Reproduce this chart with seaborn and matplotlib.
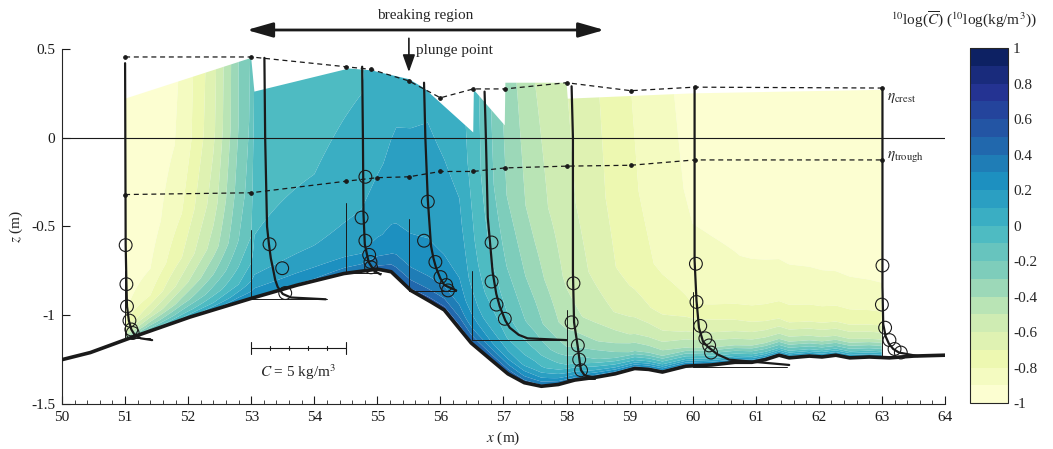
import numpy as np
import matplotlib
matplotlib.use("Agg")
import matplotlib.pyplot as plt
import seaborn as sns
from matplotlib.patches import Polygon
from matplotlib.ticker import MultipleLocator, FuncFormatter

# ---------------- data ----------------
# bed profile (m)
bed_x = [50.0, 50.45, 51.08, 52.03, 53.0, 53.73, 54.47, 55.0, 55.22, 55.53, 55.85, 56.06,
         56.28, 56.49, 56.8, 57.07, 57.33, 57.6, 57.87, 58.13, 58.45, 58.77, 59.08, 59.3,
         59.52, 59.89, 60.3, 60.67, 60.94, 61.15, 61.37, 61.53, 61.85, 62.05, 62.27, 62.49,
         62.8, 63.12, 63.5, 64.0]
bed_z = [-1.25, -1.21, -1.128, -1.01, -0.905, -0.83, -0.765, -0.74, -0.755, -0.86, -0.925, -0.97,
         -1.066, -1.157, -1.25, -1.33, -1.38, -1.40, -1.39, -1.365, -1.35, -1.33, -1.30, -1.305,
         -1.32, -1.287, -1.28, -1.265, -1.265, -1.25, -1.225, -1.24, -1.23, -1.235, -1.225, -1.24,
         -1.235, -1.24, -1.23, -1.225]

# wave crest / trough levels
crest_x = [51.0, 53.0, 54.5, 54.9, 55.5, 56.0, 56.52, 57.02, 58.0, 59.02, 60.03, 63.0]
crest_z = [0.455, 0.455, 0.40, 0.385, 0.32, 0.225, 0.275, 0.275, 0.31, 0.265, 0.285, 0.28]
trough_x = [51.0, 53.0, 54.5, 55.0, 55.5, 56.0, 56.52, 57.02, 58.0, 59.02, 60.03, 63.0]
trough_z = [-0.32, -0.31, -0.245, -0.225, -0.22, -0.19, -0.19, -0.17, -0.16, -0.155, -0.125, -0.125]

# upper edge of the concentration field
top_x = [51.0, 53.0, 53.05, 54.55, 54.9, 55.5, 55.74, 56.52, 56.53, 57.02, 57.03, 58.0, 58.02, 60.0, 63.0]
top_z = [0.22, 0.45, 0.26, 0.39, 0.38, 0.33, 0.28, 0.03, 0.27, 0.07, 0.31, 0.31, 0.22, 0.25, 0.27]

# 10log(C) field: columns (x) and values at heights above the bed
col_x = [51.0, 51.4, 51.9, 52.4, 52.8, 53.0, 53.05, 54.0, 54.75, 55.3, 55.8, 56.3, 56.6,
         57.05, 57.5, 58.0, 59.0, 60.0, 61.5, 63.0]
col_h = [0.0, 0.04, 0.1, 0.2, 0.35, 0.6, 1.0, 1.7]
col_v = [
    [-0.3, -0.6, -0.8, -0.92, -0.97, -1.0, -1.0, -1.0],
    [-0.1, -0.35, -0.6, -0.8, -0.9, -0.95, -0.97, -0.98],
    [0.05, -0.15, -0.35, -0.55, -0.7, -0.8, -0.88, -0.9],
    [0.2, 0.0, -0.15, -0.3, -0.45, -0.55, -0.62, -0.65],
    [0.3, 0.15, 0.0, -0.1, -0.2, -0.25, -0.3, -0.3],
    [0.3, 0.2, 0.1, 0.0, -0.1, -0.15, -0.18, -0.2],
    [0.3, 0.22, 0.12, 0.05, 0.0, -0.03, -0.08, -0.12],
    [0.32, 0.25, 0.17, 0.1, 0.05, 0.0, -0.04, -0.08],
    [0.4, 0.3, 0.2, 0.14, 0.1, 0.05, 0.0, -0.03],
    [0.5, 0.42, 0.32, 0.24, 0.18, 0.13, 0.08, 0.03],
    [0.55, 0.45, 0.33, 0.25, 0.2, 0.15, 0.1, 0.05],
    [0.55, 0.45, 0.33, 0.24, 0.17, 0.12, 0.06, 0.0],
    [0.5, 0.4, 0.25, 0.12, 0.03, -0.03, -0.08, -0.1],
    [0.5, 0.35, 0.15, 0.0, -0.1, -0.2, -0.3, -0.35],
    [0.45, 0.25, 0.05, -0.1, -0.25, -0.35, -0.45, -0.5],
    [0.4, 0.15, -0.1, -0.3, -0.45, -0.52, -0.57, -0.6],
    [0.4, 0.05, -0.3, -0.5, -0.65, -0.75, -0.78, -0.8],
    [0.4, 0.0, -0.4, -0.62, -0.8, -0.88, -0.92, -0.95],
    [0.3, -0.1, -0.45, -0.7, -0.85, -0.92, -0.95, -0.97],
    [0.25, -0.15, -0.5, -0.75, -0.88, -0.95, -0.97, -0.98],
]
levels = np.round(np.linspace(-1, 1, 21), 2)
cb_ticks = [-1, -0.8, -0.6, -0.4, -0.2, 0, 0.2, 0.4, 0.6, 0.8, 1]

# measuring stations: fitted profiles and measured concentrations (kg/m3)
st_x0 = [51.0, 53.2, 54.75, 55.74, 56.7, 58.08, 60.03, 63.0]
prof_z = [
    [0.42, -0.6, -0.82, -0.95, -1.03, -1.08, -1.11, -1.13, -1.14],
    [0.45, 0.0, -0.5, -0.6, -0.68, -0.73, -0.8, -0.84, -0.88, -0.9, -0.91],
    [0.40, 0.0, -0.43, -0.6, -0.7, -0.75, -0.77],
    [0.31, 0.0, -0.35, -0.61, -0.68, -0.73, -0.79, -0.83, -0.86],
    [0.26, 0.0, -0.45, -0.76, -0.88, -0.95, -1.03, -1.07, -1.11, -1.13, -1.14],
    [0.29, 0.0, -0.76, -1.04, -1.18, -1.28, -1.31, -1.34, -1.35],
    [0.285, -0.69, -0.915, -1.07, -1.15, -1.18, -1.22, -1.25, -1.28],
    [0.27, -0.84, -1.05, -1.12, -1.16, -1.19, -1.21, -1.23],
]
prof_c = [
    [0.0, 0.03, 0.07, 0.1, 0.2, 0.33, 0.5, 0.83, 1.43],
    [0.03, 0.07, 0.17, 0.27, 0.37, 0.47, 0.6, 0.73, 1.0, 1.43, 3.27],
    [0.03, 0.07, 0.1, 0.17, 0.37, 0.67, 1.0],
    [0.0, 0.07, 0.2, 0.37, 0.5, 0.63, 0.85, 1.07, 1.7],
    [0.0, 0.07, 0.17, 0.43, 0.62, 0.8, 1.1, 1.33, 1.8, 2.27, 4.33],
    [0.0, 0.07, 0.07, 0.13, 0.33, 0.45, 0.5, 0.7, 1.23],
    [0.0, 0.0, 0.1, 0.23, 0.45, 0.73, 1.2, 1.83, 5.0],
    [0.03, 0.03, 0.07, 0.2, 0.37, 0.6, 0.9, 1.9],
]
obs_z = [
    [-0.605, -0.825, -0.95, -1.03, -1.08, -1.10],
    [-0.60, -0.735, -0.875],
    [-0.22, -0.45, -0.58, -0.66, -0.70, -0.73],
    [-0.36, -0.58, -0.70, -0.785, -0.83, -0.86],
    [-0.59, -0.81, -0.94, -1.02],
    [-0.82, -1.04, -1.17, -1.25, -1.31],
    [-0.71, -0.925, -1.06, -1.13, -1.17, -1.21],
    [-0.72, -0.94, -1.07, -1.14, -1.19, -1.21],
]
obs_c = [
    [0.03, 0.07, 0.1, 0.23, 0.33, 0.4],
    [0.3, 0.97, 1.13],
    [0.2, 0.0, 0.2, 0.4, 0.47, 0.5],
    [0.2, 0.0, 0.6, 0.87, 1.17, 1.27],
    [0.37, 0.37, 0.63, 1.07],
    [0.1, 0.0, 0.33, 0.4, 0.5],
    [0.07, 0.1, 0.3, 0.57, 0.77, 0.87],
    [0.03, 0.0, 0.17, 0.4, 0.67, 1.0],
]
# thin reference lines at each station: x, top z, bed z, end x
ref_x = [51.0, 53.0, 54.5, 55.5, 56.5, 58.0, 60.0, 63.0]
ref_zt = [-0.75, -0.52, -0.37, -0.46, -0.75, -0.97, -0.87, -0.84]
ref_zb = [-1.13, -0.91, -0.76, -0.865, -1.14, -1.36, -1.29, -1.23]
ref_xe = [51.4, 54.2, 55.05, 56.25, 58.0, 58.45, 61.5, 63.6]

scale_m_per_kg = 0.3   # 5 kg/m3 = 1.5 m
scale_C = 5

# ---------------- styling ----------------
sns.set_theme(style="ticks")
plt.rcParams.update({
    "font.family": ["Liberation Serif", "DejaVu Serif"],
    "mathtext.fontset": "stix",
    "axes.unicode_minus": False,
    "font.size": 11,
    "axes.linewidth": 0.8,
})

fig = plt.figure(figsize=(10.53, 4.49), dpi=100)
ax = fig.add_axes([0.0589, 0.1002, 0.8385, 0.7907])

# ---------------- concentration field ----------------
gx = np.linspace(51.0, 63.0, 721)
gz = np.linspace(-1.45, 0.5, 420)
GX, GZ = np.meshgrid(gx, gz)
H = GZ - np.interp(GX, bed_x, bed_z)
V = np.zeros_like(GX)
eye = np.eye(len(col_x))
for i in range(len(col_x)):
    w = np.interp(GX, col_x, eye[i])
    V += w * np.interp(H, col_h, col_v[i])
V = np.clip(V, -1, 1)

cs = ax.contourf(GX, GZ, V, levels=levels, cmap="YlGnBu", zorder=1, antialiased=True)

bx = np.array(bed_x); bz = np.array(bed_z)
inner = (bx > 51.0) & (bx < 63.0)
poly_x = list(top_x) + [63.0] + list(bx[inner][::-1]) + [51.0]
poly_z = list(top_z) + [float(np.interp(63.0, bed_x, bed_z))] + list(bz[inner][::-1]) + \
         [float(np.interp(51.0, bed_x, bed_z))]
clip = Polygon(np.column_stack([poly_x, poly_z]), closed=True, transform=ax.transData,
               facecolor="none", edgecolor="none")
cs.set_clip_path(clip)

# ---------------- lines ----------------
ax.axhline(0, color="k", lw=0.8, zorder=2)

for xr, zt, zb, xe in zip(ref_x, ref_zt, ref_zb, ref_xe):
    ax.plot([xr, xr, xe], [zt, zb, zb], color="k", lw=0.7, zorder=3)

for lx, lz in ((crest_x, crest_z), (trough_x, trough_z)):
    sns.lineplot(x=lx, y=lz, ax=ax, color="k", lw=0.9, linestyle=(0, (4, 3)),
                 marker="o", markersize=2.6, markeredgecolor="k", markerfacecolor="k",
                 sort=False, estimator=None, zorder=4)

for x0, pz, pc, oz, oc in zip(st_x0, prof_z, prof_c, obs_z, obs_c):
    px = x0 + scale_m_per_kg * np.array(pc)
    sns.lineplot(x=px, y=pz, ax=ax, color="k", lw=1.6, sort=False, estimator=None, zorder=5)
    ox = x0 + scale_m_per_kg * np.array(oc)
    ax.scatter(ox, oz, s=85, facecolors="none", edgecolors="k", linewidths=0.8, zorder=6)

sns.lineplot(x=bed_x, y=bed_z, ax=ax, color="k", lw=2.6, sort=False, estimator=None, zorder=7)

# scale bar
sb_x0, sb_z = 53.0, -1.185
sb_ticks = sb_x0 + scale_m_per_kg * np.arange(0, scale_C + 1)
ax.plot([sb_ticks[0], sb_ticks[-1]], [sb_z, sb_z], color="k", lw=0.8)
for i, t in enumerate(sb_ticks):
    hgt = 0.035 if i in (0, scale_C) else 0.012
    ax.plot([t, t], [sb_z - hgt, sb_z + hgt], color="k", lw=0.8)
ax.text((sb_ticks[0] + sb_ticks[-1]) / 2, -1.32, r"$C$ = 5 kg/m$^3$", ha="center", va="center",
        fontsize=11)

# annotations
ax.annotate("", xy=(52.93, 0.607), xytext=(58.6, 0.607), annotation_clip=False,
            arrowprops=dict(arrowstyle="<|-|>,head_length=1.05,head_width=0.3", color="k",
                            lw=2, mutation_scale=15, shrinkA=0, shrinkB=0))
ax.text(55.76, 0.69, "breaking region", ha="center", va="center", fontsize=11, clip_on=False)
ax.annotate("", xy=(55.5, 0.37), xytext=(55.5, 0.56), annotation_clip=False,
            arrowprops=dict(arrowstyle="-|>,head_length=0.7,head_width=0.25", color="k",
                            lw=1.2, mutation_scale=15, shrinkA=0, shrinkB=0))
ax.text(55.62, 0.49, "plunge point", ha="left", va="center", fontsize=11, clip_on=False)
ax.text(63.08, 0.225, r"$\eta_{\mathrm{crest}}$", ha="left", va="center", fontsize=11)
ax.text(63.08, -0.105, r"$\eta_{\mathrm{trough}}$", ha="left", va="center", fontsize=11)

# axes
ax.set_xlim(50, 64)
ax.set_ylim(-1.5, 0.5)
sns.despine(ax=ax)
ax.xaxis.set_major_locator(MultipleLocator(1))
ax.xaxis.set_minor_locator(MultipleLocator(0.2))
ax.yaxis.set_major_locator(MultipleLocator(0.5))
fmt = FuncFormatter(lambda v, p: "0" if abs(v) < 1e-9 else f"{v:g}")
ax.xaxis.set_major_formatter(fmt)
ax.yaxis.set_major_formatter(fmt)
ax.tick_params(which="major", direction="in", length=6, width=0.8, labelsize=11, pad=5,
               colors="k")
ax.tick_params(which="minor", direction="in", length=3, width=0.6)
ax.set_xlabel(r"$x$ (m)", fontsize=11, labelpad=4)
ax.set_ylabel(r"$z$ (m)", fontsize=11, labelpad=4)

# colorbar
cax = fig.add_axes([0.9212, 0.1024, 0.0357, 0.7906])
cb = fig.colorbar(cs, cax=cax, ticks=cb_ticks)
cb.ax.set_yticklabels([("0" if t == 0 else f"{t:g}") for t in cb_ticks])
cb.ax.tick_params(direction="in", length=3, width=0.6, labelsize=11, pad=4)
cb.outline.set_linewidth(0.8)
fig.text(0.9155, 0.955, r"$^{10}$log($\overline{C}$) ($^{10}$log(kg/m$^3$))", ha="center",
         va="center", fontsize=11)

fig.savefig("out.png", dpi=100)
